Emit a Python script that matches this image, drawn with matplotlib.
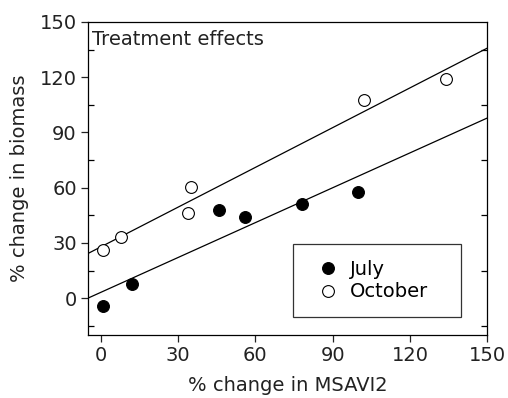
import numpy as np
import matplotlib
matplotlib.use("Agg")
import matplotlib.pyplot as plt
from matplotlib.ticker import FixedLocator

# the reference text is wide, DejaVu Sans matches its widths better than Arial clones
plt.rcParams['font.family'] = ['DejaVu Sans']

# data
july_x = [1, 12, 46, 56, 78, 100]
july_y = [-4, 7.5, 48, 44, 51, 57.5]
october_x = [1, 8, 34, 35, 102, 134]
october_y = [26, 33.5, 46.5, 60.5, 107.5, 119]

x_ticks = [0, 30, 60, 90, 120, 150]
y_ticks = [0, 30, 60, 90, 120, 150]
y_minor = [-15, 15, 45, 75, 105, 135]

fig = plt.figure(figsize=(5.08, 3.98), dpi=100)
ax = fig.add_axes([0.173, 0.158, 0.786, 0.787])

x_min, x_max = -5, 150
ax.set_xlim(x_min, x_max)
ax.set_ylim(-20, 150)

# regression lines across the full x range
xs = np.array([x_min, x_max])
for xv, yv in [(july_x, july_y), (october_x, october_y)]:
    slope, icpt = np.polyfit(xv, yv, 1)
    ax.plot(xs, slope * xs + icpt, color='black', lw=0.9, zorder=2)

ax.plot(july_x, july_y, 'o', ms=8.5, mfc='black', mec='black', mew=0.8,
        label='July', zorder=3)
ax.plot(october_x, october_y, 'o', ms=8.5, mfc='white', mec='black', mew=0.8,
        label='October', zorder=3)

ax.xaxis.set_major_locator(FixedLocator(x_ticks))
ax.yaxis.set_major_locator(FixedLocator(y_ticks))
ax.yaxis.set_minor_locator(FixedLocator(y_minor))
ax.tick_params(axis='both', which='major', direction='out', length=5, width=0.9,
               labelsize=14, pad=3, colors='#222222')
ax.tick_params(axis='y', which='minor', direction='in', length=4, width=0.9,
               left=True, right=True)
ax.tick_params(axis='x', which='minor', bottom=False)
for s in ax.spines.values():
    s.set_linewidth(0.9)

ax.set_xlabel('% change in MSAVI2', fontsize=14, labelpad=8, color='#222222')
ax.set_ylabel('% change in biomass', fontsize=14, labelpad=8, color='#222222')

ax.text(0.01, 0.975, 'Treatment effects', transform=ax.transAxes,
        fontsize=14, va='top', ha='left', color='#222222')

# legend box stretched to the width it has in the reference
leg = ax.legend(loc='lower left', bbox_to_anchor=(0.514, 0.058, 0.421, 0),
                mode='expand', fontsize=14,
                frameon=True, fancybox=False, edgecolor='black',
                handletextpad=0.1, borderpad=0.8, labelspacing=0.2,
                handlelength=2.0, borderaxespad=0)
leg.get_frame().set_linewidth(0.9)

fig.savefig('out.png', dpi=100)
